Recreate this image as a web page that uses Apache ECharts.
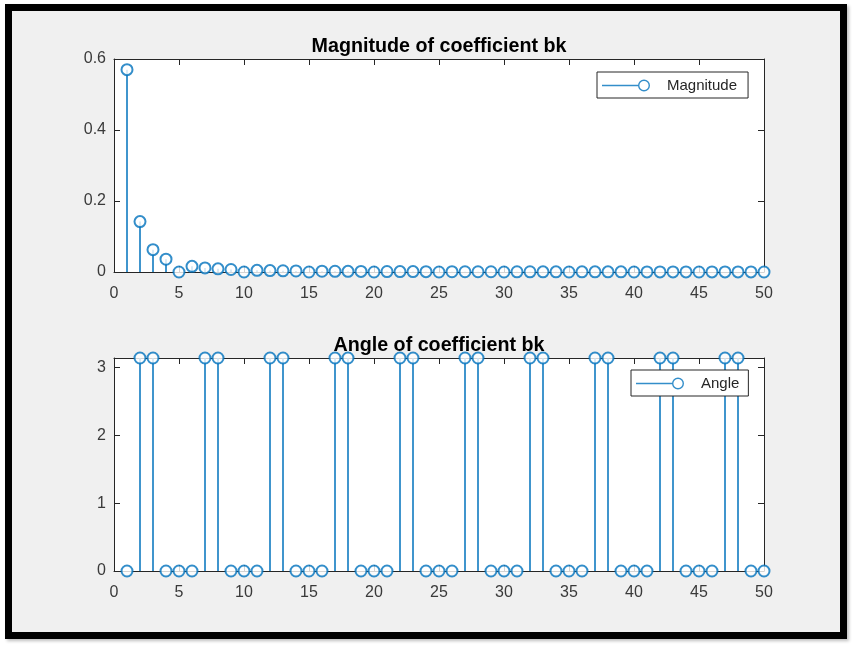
<!DOCTYPE html>
<html>
<head>
<meta charset="utf-8">
<script src="https://cdn.jsdelivr.net/npm/echarts@6/dist/echarts.min.js"></script>
<style>
  html, body { margin: 0; padding: 0; background: #ffffff; width: 859px; height: 652px; overflow: hidden; }
  #frame { position: absolute; left: 5px; top: 4px; width: 828px; height: 621px; border: 7px solid #000; background: #f0f0f0; box-shadow: 2px 2px 3px rgba(0,0,0,0.25); }
  #chart { position: absolute; left: 0; top: 0; width: 859px; height: 652px; }
</style>
</head>
<body>
<div id="frame"></div>
<div id="chart"></div>
<script>
// ---- data ----
const kValues = [1,2,3,4,5,6,7,8,9,10,11,12,13,14,15,16,17,18,19,20,21,22,23,24,25,26,27,28,29,30,31,32,33,34,35,36,37,38,39,40,41,42,43,44,45,46,47,48,49,50];
const magnitude = [0.57,0.142,0.063,0.036,0,0.016,0.0116,0.0089,0.007,0,0.0047,0.004,0.0034,0.0029,0,0.0022,0.002,0.0018,0.0016,0,0.0013,0.0012,0.0011,0.001,0,0.00084,0.00078,0.00073,0.00068,0,0.00059,0.00056,0.00052,0.00049,0,0.00044,0.00042,0.0004,0.00037,0,0.00034,0.00032,0.00031,0.00029,0,0.00027,0.00026,0.00025,0.00024,0];
const P = 3.1416;
const angle = [0,P,P,0,0,0,P,P,0,0,0,P,P,0,0,0,P,P,0,0,0,P,P,0,0,0,P,P,0,0,0,P,P,0,0,0,P,P,0,0,0,P,P,0,0,0,P,P,0,0];
const xTicks = [0,5,10,15,20,25,30,35,40,45,50];
const magTicks = [0,0.2,0.4,0.6];
const angTicks = [0,1,2,3];
const titles = ['Magnitude of coefficient bk', 'Angle of coefficient bk'];
const seriesNames = ['Magnitude', 'Angle'];

// ---- styling ----
const FONT = "'Liberation Sans', Arial, Helvetica, sans-serif";
const BLUE = '#0072BD';
const AX = '#262626';
const LBL = '#3a3a3a';

const magPairs = kValues.map((k, i) => [k, magnitude[i]]);
const angPairs = kValues.map((k, i) => [k, angle[i]]);

const legendIcon = 'path://M0,5.3H36.2V6.7H0Z M48,6A6,6 0 1 1 36,6A6,6 0 1 1 48,6Z M46.6,6A4.6,4.6 0 1 0 37.4,6A4.6,4.6 0 1 0 46.6,6Z';

function xAxisDef(grid, pos, showLabel) {
  return {
    type: 'value', gridIndex: grid, position: pos, min: 0, max: 50, interval: 5,
    axisLine: { show: true, onZero: false, lineStyle: { color: AX, width: 1 } },
    axisTick: { show: true, inside: true, length: 6, lineStyle: { color: AX, width: 1 } },
    axisLabel: { show: showLabel, color: LBL, fontFamily: FONT, fontSize: 16, margin: 14 },
    splitLine: { show: false }
  };
}
function yAxisDef(grid, pos, showLabel, max, interval, fmt) {
  return {
    type: 'value', gridIndex: grid, position: pos, min: 0, max: max, interval: interval,
    axisLine: { show: true, onZero: false, lineStyle: { color: AX, width: 1 } },
    axisTick: { show: true, inside: true, length: 6, lineStyle: { color: AX, width: 1 } },
    axisLabel: { show: showLabel, color: LBL, fontFamily: FONT, fontSize: 16, margin: 8, padding: [5, 0, 0, 0], formatter: fmt },
    splitLine: { show: false }
  };
}

const chart = echarts.init(document.getElementById('chart'), null, { renderer: 'canvas' });
chart.setOption({
  animation: false,
  backgroundColor: 'transparent',
  title: [
    { text: titles[0], left: 439, top: 37, textAlign: 'center', padding: 0,
      textStyle: { fontFamily: FONT, fontSize: 19.7, fontWeight: 'bold', color: '#000' } },
    { text: titles[1], left: 439, top: 336, textAlign: 'center', padding: 0,
      textStyle: { fontFamily: FONT, fontSize: 19.7, fontWeight: 'bold', color: '#000' } }
  ],
  legend: [
    { data: [seriesNames[0]], left: 597, top: 72, orient: 'vertical', padding: [6, 11, 5, 5],
      backgroundColor: '#fff', borderColor: AX, borderWidth: 1, borderRadius: 0,
      icon: legendIcon, itemWidth: 48, itemHeight: 12, itemStyle: { borderWidth: 0, color: BLUE },
      textStyle: { fontFamily: FONT, fontSize: 15, color: '#262626', padding: [0, 0, 0, 12] }, selectedMode: false },
    { data: [seriesNames[1]], left: 631, top: 370, orient: 'vertical', padding: [6, 9, 5, 5],
      backgroundColor: '#fff', borderColor: AX, borderWidth: 1, borderRadius: 0,
      icon: legendIcon, itemWidth: 48, itemHeight: 12, itemStyle: { borderWidth: 0, color: BLUE },
      textStyle: { fontFamily: FONT, fontSize: 15, color: '#262626', padding: [0, 0, 0, 12] }, selectedMode: false }
  ],
  grid: [
    { left: 114, top: 59, width: 650, height: 213, show: true, backgroundColor: '#fff', borderWidth: 0 },
    { left: 114, top: 358, width: 650, height: 213, show: true, backgroundColor: '#fff', borderWidth: 0 }
  ],
  xAxis: [
    xAxisDef(0, 'bottom', true),
    xAxisDef(0, 'top', false),
    xAxisDef(1, 'bottom', true),
    xAxisDef(1, 'top', false)
  ],
  yAxis: [
    yAxisDef(0, 'left', true, 0.6, 0.2, v => (Math.round(v * 10) / 10).toString()),
    yAxisDef(0, 'right', false, 0.6, 0.2),
    yAxisDef(1, 'left', true, Math.PI, 1, v => (Number.isInteger(v) ? String(v) : '')),
    yAxisDef(1, 'right', false, Math.PI, 1)
  ],
  series: [
    { name: 'magStem', type: 'bar', xAxisIndex: 0, yAxisIndex: 0, data: magPairs, barWidth: 1.5,
      itemStyle: { color: BLUE }, z: 2, silent: true },
    { name: seriesNames[0], type: 'scatter', xAxisIndex: 0, yAxisIndex: 0, data: magPairs, symbol: 'emptyCircle', symbolSize: 11,
      itemStyle: { color: BLUE, borderColor: BLUE, borderWidth: 1.4 }, clip: false, z: 3 },
    { name: 'angStem', type: 'bar', xAxisIndex: 2, yAxisIndex: 2, data: angPairs, barWidth: 1.5,
      itemStyle: { color: BLUE }, z: 2, silent: true },
    { name: seriesNames[1], type: 'scatter', xAxisIndex: 2, yAxisIndex: 2, data: angPairs, symbol: 'emptyCircle', symbolSize: 11,
      itemStyle: { color: BLUE, borderColor: BLUE, borderWidth: 1.4 }, clip: false, z: 3 }
  ]
});
</script>
</body>
</html>
